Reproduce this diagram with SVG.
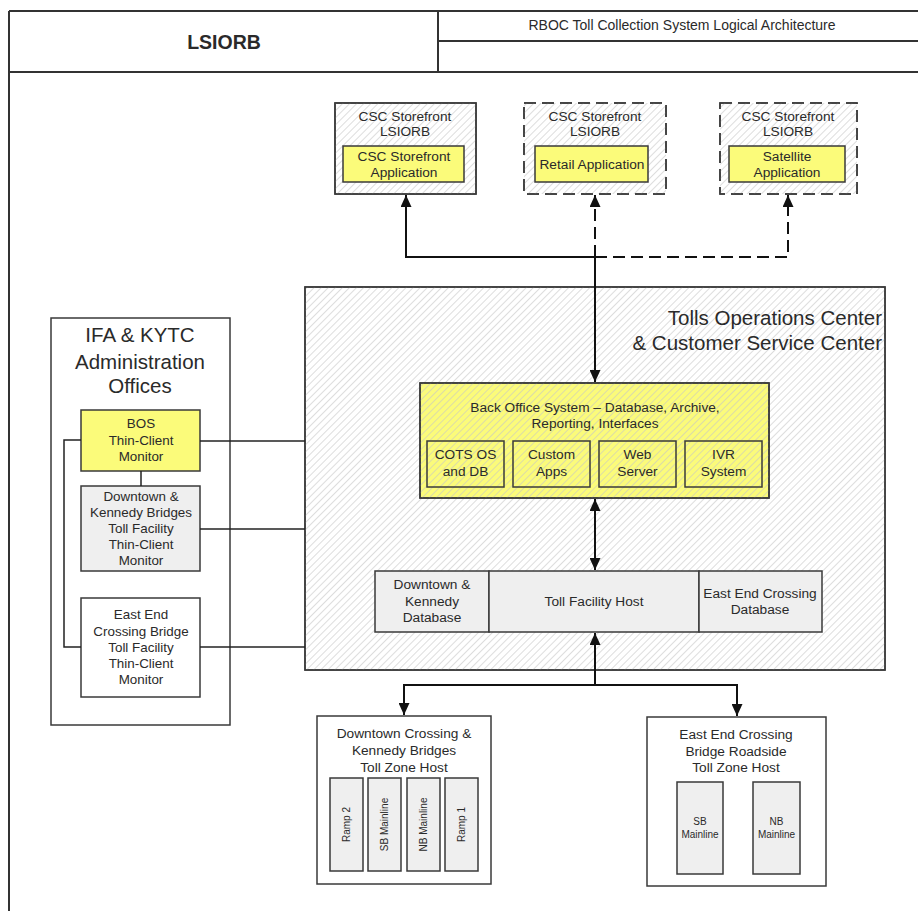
<svg xmlns="http://www.w3.org/2000/svg" width="918" height="911" viewBox="0 0 918 911">
<style>
text{font-family:"Liberation Sans",Arial,sans-serif;fill:#2a2a2a;text-anchor:middle}
.box{stroke:#3a3a3a;stroke-width:1.5}
.hatch{fill:url(#hatch)}
.white{fill:#fff}
.yellow{fill:#fbfb7a}
.gray{fill:#efefef}
.dash{stroke-dasharray:12 6}
.frame{stroke:#333;stroke-width:2;fill:none}
.conn{stroke:#111;stroke-width:2;fill:none}
.link{stroke:#222;stroke-width:1.5;fill:none}
.t12{font-size:13.4px}
.t125{font-size:13.7px}
.t13{font-size:13.7px}
.t10{font-size:10px}
.t18{font-size:20.5px}
</style>
<defs>
<pattern id="hatch" patternUnits="userSpaceOnUse" width="5" height="5" patternTransform="rotate(45)">
<rect width="5" height="5" fill="none"/>
<line x1="0" y1="0" x2="0" y2="5" stroke="#c6c6c6" stroke-width="1.2"/>
</pattern>
<marker id="arr" viewBox="0 0 10 10" refX="10" refY="5" markerWidth="6" markerHeight="5.5" orient="auto-start-reverse" markerUnits="strokeWidth" preserveAspectRatio="none">
<path d="M0,0 L10,5 L0,10 z" fill="#111"/>
</marker>
</defs>
<rect width="918" height="911" fill="#fff"/>

<g id="frame">
<line x1="9" y1="11" x2="918" y2="11" class="frame"/>
<line x1="9" y1="11" x2="9" y2="911" class="frame"/>
<line x1="9" y1="72" x2="918" y2="72" class="frame"/>
<line x1="438" y1="41" x2="918" y2="41" class="frame"/>
<line x1="438" y1="11" x2="438" y2="72" class="frame"/>
<text x="224" y="49" style="font-size:19.5px;font-weight:bold">LSIORB</text>
<text x="682" y="30" style="font-size:14px">RBOC Toll Collection System Logical Architecture</text>
</g>

<g id="storefront1">
<rect x="335" y="103" width="141" height="91" class="box white"/>
<rect x="335" y="103" width="141" height="91" class="box hatch"/>
<text x="405" y="121" class="t125">CSC Storefront</text>
<text x="405" y="136" class="t125">LSIORB</text>
<rect x="343" y="146" width="121" height="36" class="box yellow"/>
<text x="404" y="161" class="t13">CSC Storefront</text>
<text x="404" y="177" class="t13">Application</text>
</g>
<g id="storefront2">
<rect x="524" y="103" width="142" height="91" class="box white dash"/>
<rect x="524" y="103" width="142" height="91" class="box hatch dash"/>
<text x="595" y="121" class="t125">CSC Storefront</text>
<text x="595" y="136" class="t125">LSIORB</text>
<rect x="535" y="146" width="113" height="36" class="box yellow"/>
<text x="592" y="169" class="t13">Retail Application</text>
</g>
<g id="storefront3">
<rect x="720" y="103" width="137" height="91" class="box white dash"/>
<rect x="720" y="103" width="137" height="91" class="box hatch dash"/>
<text x="788" y="121" class="t125">CSC Storefront</text>
<text x="788" y="136" class="t125">LSIORB</text>
<rect x="729" y="146" width="116" height="36" class="box yellow"/>
<text x="787" y="161" class="t13">Satellite</text>
<text x="787" y="177" class="t13">Application</text>
</g>

<g id="toc">
<rect x="305" y="287" width="580" height="383" class="box white"/>
<rect x="305" y="287" width="580" height="383" class="box hatch"/>
<text x="882" y="325" class="t18" style="text-anchor:end">Tolls Operations Center</text>
<text x="882" y="350" class="t18" style="text-anchor:end">&amp; Customer Service Center</text>
</g>

<g id="bos">
<rect x="420" y="383" width="349" height="115" class="box yellow"/>
<rect x="420" y="383" width="349" height="115" class="box hatch"/>
<text x="595" y="412" class="t125">Back Office System – Database, Archive,</text>
<text x="595" y="428" class="t125">Reporting, Interfaces</text>
<rect x="427" y="441" width="77" height="46" class="box" fill="none"/>
<text x="465.5" y="459" class="t13">COTS OS</text>
<text x="465.5" y="476" class="t13">and DB</text>
<rect x="513" y="441" width="77" height="46" class="box" fill="none"/>
<text x="551.5" y="459" class="t13">Custom</text>
<text x="551.5" y="476" class="t13">Apps</text>
<rect x="599" y="441" width="77" height="46" class="box" fill="none"/>
<text x="637.5" y="459" class="t13">Web</text>
<text x="637.5" y="476" class="t13">Server</text>
<rect x="685" y="441" width="77" height="46" class="box" fill="none"/>
<text x="723.5" y="459" class="t13">IVR</text>
<text x="723.5" y="476" class="t13">System</text>
</g>

<g id="tollfacility">
<rect x="375" y="571" width="114" height="61" class="box gray"/>
<text x="432" y="589" class="t125">Downtown &amp;</text>
<text x="432" y="606" class="t125">Kennedy</text>
<text x="432" y="622" class="t125">Database</text>
<rect x="489" y="571" width="210" height="61" class="box gray"/>
<text x="594" y="606" class="t125">Toll Facility Host</text>
<rect x="699" y="571" width="123" height="61" class="box gray"/>
<text x="760" y="598" class="t125">East End Crossing</text>
<text x="760" y="614" class="t125">Database</text>
</g>

<g id="admin">
<rect x="51" y="318" width="179" height="407" class="box white"/>
<text x="140" y="342" class="t18">IFA &amp; KYTC</text>
<text x="140" y="369" class="t18">Administration</text>
<text x="140" y="393" class="t18">Offices</text>
</g>
<g id="bos-monitor">
<rect x="81" y="410" width="119" height="61" class="box yellow"/>
<text x="141" y="428" class="t12">BOS</text>
<text x="141" y="445" class="t12">Thin-Client</text>
<text x="141" y="461" class="t12">Monitor</text>
</g>
<g id="downtown-monitor">
<rect x="81" y="486" width="119" height="85" class="box gray"/>
<text x="141" y="501" class="t12">Downtown &amp;</text>
<text x="141" y="517" class="t12">Kennedy Bridges</text>
<text x="141" y="533" class="t12">Toll Facility</text>
<text x="141" y="549" class="t12">Thin-Client</text>
<text x="141" y="565" class="t12">Monitor</text>
</g>
<g id="eastend-monitor">
<rect x="81" y="598" width="119" height="99" class="box white"/>
<text x="141" y="619" class="t12">East End</text>
<text x="141" y="636" class="t12">Crossing Bridge</text>
<text x="141" y="652" class="t12">Toll Facility</text>
<text x="141" y="668" class="t12">Thin-Client</text>
<text x="141" y="684" class="t12">Monitor</text>
</g>

<g id="downtown-zone">
<rect x="317" y="716" width="174" height="168" class="box white"/>
<text x="404" y="738" class="t13">Downtown Crossing &amp;</text>
<text x="404" y="755" class="t13">Kennedy Bridges</text>
<text x="404" y="772" class="t13">Toll Zone Host</text>
<rect x="330" y="778" width="33" height="93" class="box gray"/>
<rect x="368" y="778" width="33" height="93" class="box gray"/>
<rect x="407" y="778" width="33" height="93" class="box gray"/>
<rect x="445" y="778" width="33" height="93" class="box gray"/>
<text class="t10" transform="translate(346.5,824.5) rotate(-90)" y="3.5">Ramp 2</text>
<text class="t10" transform="translate(384.5,824.5) rotate(-90)" y="3.5">SB Mainline</text>
<text class="t10" transform="translate(423.5,824.5) rotate(-90)" y="3.5">NB Mainline</text>
<text class="t10" transform="translate(461.5,824.5) rotate(-90)" y="3.5">Ramp 1</text>
</g>
<g id="eastend-zone">
<rect x="647" y="717" width="179" height="169" class="box white"/>
<text x="736" y="739" class="t13">East End Crossing</text>
<text x="736" y="756" class="t13">Bridge Roadside</text>
<text x="736" y="772" class="t13">Toll Zone Host</text>
<rect x="677" y="782" width="46" height="92" class="box gray"/>
<rect x="753" y="782" width="47" height="92" class="box gray"/>
<text x="700" y="825" class="t10">SB</text>
<text x="700" y="838" class="t10">Mainline</text>
<text x="776.5" y="825" class="t10">NB</text>
<text x="776.5" y="838" class="t10">Mainline</text>
</g>

<g id="connectors">
<polyline points="595,382 595,257 406,257 406,195" class="conn" marker-start="url(#arr)" marker-end="url(#arr)"/>
<polyline points="595,257 595,195" class="conn dash" marker-end="url(#arr)"/>
<polyline points="595,257 788,257 788,195" class="conn dash" marker-end="url(#arr)"/>
<line x1="595" y1="499" x2="595" y2="570" class="conn" marker-start="url(#arr)" marker-end="url(#arr)"/>
<polyline points="595,633 595,685 404,685 404,715" class="conn" marker-start="url(#arr)" marker-end="url(#arr)"/>
<polyline points="595,685 737,685 737,716" class="conn" marker-end="url(#arr)"/>
<line x1="200" y1="441" x2="305" y2="441" class="link"/>
<line x1="200" y1="529" x2="305" y2="529" class="link"/>
<line x1="200" y1="647" x2="305" y2="647" class="link"/>
<line x1="141" y1="471" x2="141" y2="486" class="link"/>
<polyline points="81,440 64,440 64,647 81,647" class="link"/>
</g>
</svg>
